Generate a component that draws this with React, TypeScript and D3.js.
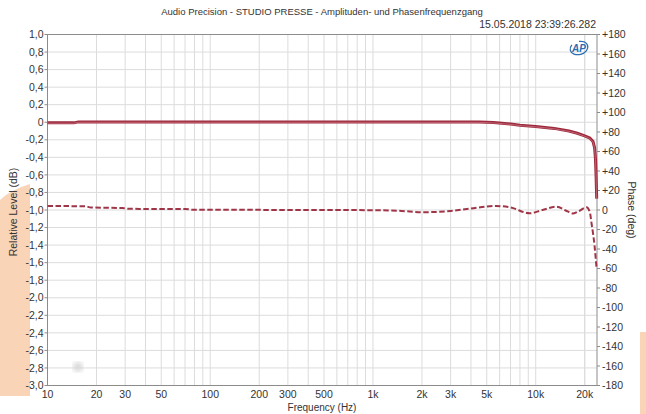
import * as d3 from "d3";
import React from "react";

// amplitude trace (Hz, dB)
const ampFreq = [10, 14.5, 15.5, 100, 1000, 4500, 5500, 7000, 8000, 10000, 13000, 16000, 18000, 20000, 21500, 22500, 23000, 23300, 23500, 23700];
const ampDb = [-0.007, -0.007, 0.004, 0.004, 0.004, 0.003, -0.003, -0.02, -0.033, -0.048, -0.07, -0.1, -0.125, -0.155, -0.18, -0.22, -0.29, -0.42, -0.62, -0.87];

// phase trace (Hz, deg)
const phaseFreq = [10, 17, 18.5, 29, 31, 70, 78, 500, 1000, 1500, 2000, 3000, 4000, 5700, 7000, 9200, 11000, 13400, 15500, 17000, 18500, 20500, 21500, 22000, 23000, 23600];
const phaseDeg = [4.1, 3.8, 2.6, 2.0, 1.2, 1.0, 0.3, 0, -0.2, -1, -2.3, -1, 1.5, 4.1, 2.6, -3.4, 0, 3.4, -1, -3.6, -1, 2.8, -2, -13, -37, -58];

const xTicks = [10, 20, 30, 50, 100, 200, 300, 500, 1000, 2000, 3000, 5000, 10000, 20000];
const xTickLabels = ["10", "20", "30", "50", "100", "200", "300", "500", "1k", "2k", "3k", "5k", "10k", "20k"];
const dbTicks = d3.range(-3, 1.0001, 0.2);
const degTicks = d3.range(-180, 181, 20);

const title = "Audio Precision - STUDIO PRESSE - Amplituden- und Phasenfrequenzgang";
const stamp = "15.05.2018 23:39:26.282";

export default function App() {
    const W = 646, H = 414;
    const L = 47.5, R = 597, T = 34.5, B = 385.5;
    const x = d3.scaleLog().domain([10, 23800]).range([L, R]);
    const yA = d3.scaleLinear().domain([-3, 1]).range([B, T]);
    const yP = d3.scaleLinear().domain([-180, 180]).range([B, T]);

    // minor grid frequencies
    const grid: number[] = [];
    for (let dec = 10; dec <= 10000; dec *= 10) for (let m = 1; m <= 9; m++) { const f = dec * m; if (f <= 23800) grid.push(f); }
    grid.push(20000);

    const ampLine = d3.line<number>().x((_, i) => x(ampFreq[i])).y(d => yA(d));
    const phLine = d3.line<number>().x((_, i) => x(phaseFreq[i])).y(d => yP(d)).curve(d3.curveMonotoneX);

    const fmt = (v: number) => {
        const r = Math.round(v * 10) / 10;
        if (Math.abs(r) < 1e-9) return "0";
        return r.toFixed(1).replace(".", ",");
    };
    const fmtDeg = (v: number) => (v > 0 ? "+" + v : String(v));
    const font = "'Liberation Sans', Arial, sans-serif";

    return (
        <svg width={W} height={H} style={{ position: "fixed", left: 0, top: 0, background: "#fff" }} fontFamily={font}>
            <defs>
                <filter id="blur"><feGaussianBlur stdDeviation="2.5" /></filter>
            </defs>
            <rect width={W} height={H} fill="#fff" />
            {/* peach page edges */}
            <path d="M0,200 Q10,190 30,184 L30,396 L0,396 Z" fill="#f9d4b6" />
            <rect x={640} y={332} width={6} height={82} fill="#f9d4b6" />

            {/* grid */}
            {grid.map((f, i) => (
                <line key={"v" + i} x1={x(f)} x2={x(f)} y1={T} y2={B} stroke="#dcdcdc" strokeWidth={1} />
            ))}
            {dbTicks.map((v, i) => (
                <line key={"h" + i} x1={L} x2={R} y1={yA(v)} y2={yA(v)} stroke="#dcdcdc" strokeWidth={1} />
            ))}
            <circle cx={78} cy={367} r={5} fill="#d8d8d8" filter="url(#blur)" />

            {/* frame */}
            <rect x={L} y={T} width={R - L} height={B - T} fill="none" stroke="#8c8c8c" strokeWidth={1} />

            {/* left ticks */}
            {dbTicks.map((v, i) => (
                <g key={"lt" + i}>
                    <line x1={L - 3} x2={L} y1={yA(v)} y2={yA(v)} stroke="#8c8c8c" />
                    <text x={L - 4} y={yA(v)} dy="0.35em" textAnchor="end" fontSize={10.5} fill="#333">{fmt(v)}</text>
                </g>
            ))}
            {/* right ticks */}
            {degTicks.map((v, i) => (
                <g key={"rt" + i}>
                    <line x1={R} x2={R + 3} y1={yP(v)} y2={yP(v)} stroke="#8c8c8c" />
                    <text x={R + 5} y={yP(v)} dy="0.35em" textAnchor="start" fontSize={10.5} fill="#333">{fmtDeg(v)}</text>
                </g>
            ))}
            {/* bottom ticks */}
            {xTicks.map((f, i) => (
                <text key={"xt" + i} x={x(f)} y={B + 12} textAnchor="middle" fontSize={10.5} fill="#333">{xTickLabels[i]}</text>
            ))}

            {/* traces */}
            <path d={phLine(phaseDeg)!} fill="none" stroke="#a03548" strokeWidth={2} strokeDasharray="5.5,2.5" />
            <path d={ampLine(ampDb)!} fill="none" stroke="#9c2a3c" strokeWidth={3} />
            <path d={ampLine(ampDb)!} fill="none" stroke="#c8707f" strokeWidth={0.8} transform="translate(0,0.4)" />

            {/* AP logo */}
            <g transform="translate(579,48)">
                <ellipse cx={0} cy={0} rx={9} ry={6.5} fill="none" stroke="#2b6cb3" strokeWidth={1.3} strokeDasharray="30,8" transform="rotate(-15)" />
                <text x={0} y={3.5} textAnchor="middle" fontSize={10} fontWeight="bold" fontStyle="italic" fill="#2b6cb3">AP</text>
            </g>

            {/* titles */}
            <text x={322} y={15} textAnchor="middle" fontSize={9.5} fill="#333">{title}</text>
            <text x={596} y={28} textAnchor="end" fontSize={10.5} fill="#333">{stamp}</text>
            <text x={322} y={411} textAnchor="middle" fontSize={10} fill="#333">Frequency (Hz)</text>
            <text transform={`translate(17,${(T + B) / 2 + 2}) rotate(-90)`} textAnchor="middle" fontSize={10.5} fill="#333">Relative Level (dB)</text>
            <text transform={`translate(628,${(T + B) / 2}) rotate(90)`} textAnchor="middle" fontSize={10.5} fill="#333">Phase (deg)</text>
        </svg>
    );
}
